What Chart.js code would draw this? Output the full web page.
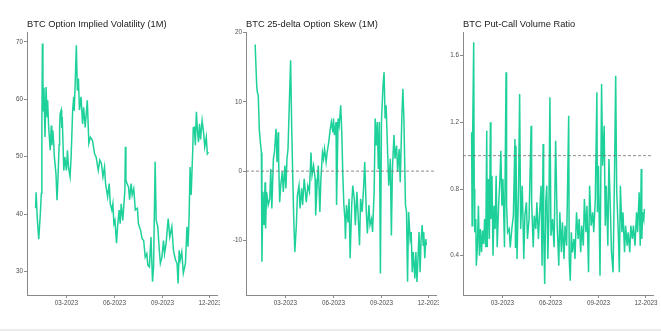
<!DOCTYPE html>
<html>
<head>
<meta charset="utf-8">
<script src="https://cdn.jsdelivr.net/npm/chart.js@4.4.0/dist/chart.umd.min.js"></script>
<style>
    html, body { margin: 0; padding: 0; background: #fff; }
    #wrap { position: relative; width: 661px; height: 331px; overflow: hidden; }
    .panel { position: absolute; top: 0; height: 331px; }
    .panel canvas { display: block; }
    #footer-line { position: absolute; left: 0; top: 329px; width: 661px; height: 2px; background: #ececec; }
</style>
</head>
<body>
<div id="wrap">
    <div class="panel" style="left:0;width:220px"><canvas id="ivChart" width="220" height="331"></canvas></div>
    <div class="panel" style="left:220px;width:219px"><canvas id="skewChart" width="219" height="331"></canvas></div>
    <div class="panel" style="left:439px;width:222px"><canvas id="pcrChart" width="222" height="331"></canvas></div>
    <div id="footer-line"></div>
</div>
<script>
// Days counted from 2023-01-01
const monthTickDays = [59, 151, 243, 334];
const monthTickLabels = ['03-2023', '06-2023', '09-2023', '12-2023'];

// BTC implied volatility (1M)
const ivDays = [0, 1, 3, 6, 9, 11, 12, 13, 14, 15, 16, 18, 20, 22, 23, 25, 28, 30, 31, 33, 35, 36, 39, 41, 43, 45, 46, 47, 49, 50, 51, 54, 56, 59, 61, 63, 66, 68, 71, 73, 74, 76, 78, 80, 82, 84, 87, 90, 92, 95, 99, 102, 105, 109, 113, 116, 120, 123, 126, 129, 132, 134, 138, 141, 143, 146, 148, 150, 152, 155, 157, 160, 162, 164, 167, 171, 172, 173, 175, 178, 180, 183, 185, 188, 191, 195, 197, 201, 204, 207, 210, 213, 215, 218, 221, 224, 226, 229, 231, 234, 237, 239, 242, 245, 247, 250, 254, 257, 261, 264, 268, 271, 273, 275, 277, 280, 283, 287, 290, 292, 294, 296, 298, 301, 302, 304, 306, 308, 310, 312, 314, 316, 319, 322, 324, 327, 329, 331];
const ivValues = [41.0, 43.8, 39.5, 35.6, 40.0, 43.6, 55.0, 69.7, 63.0, 58.0, 62.0, 53.4, 62.1, 57.0, 59.8, 55.1, 51.1, 55.4, 52.0, 54.6, 51.7, 49.9, 47.0, 42.4, 46.5, 52.0, 55.1, 57.5, 58.1, 55.0, 56.9, 47.6, 49.9, 47.6, 51.1, 48.2, 46.5, 49.9, 58.1, 60.4, 58.0, 63.3, 69.4, 61.5, 63.6, 58.1, 60.4, 55.7, 58.6, 55.1, 59.8, 52.3, 53.4, 52.8, 50.5, 49.9, 47.6, 49.4, 48.8, 46.5, 48.2, 45.3, 43.0, 45.3, 41.8, 40.7, 41.8, 38.3, 38.9, 34.9, 37.8, 40.7, 38.3, 41.8, 38.9, 44.1, 51.7, 46.0, 45.3, 44.7, 42.5, 45.3, 43.3, 44.4, 40.7, 41.0, 38.3, 37.2, 35.7, 35.4, 32.5, 33.1, 31.1, 30.8, 36.0, 28.2, 30.8, 49.1, 38.9, 37.8, 33.7, 31.4, 32.5, 35.4, 33.1, 34.9, 39.2, 36.0, 37.8, 33.7, 32.0, 31.4, 27.9, 33.7, 32.0, 33.4, 29.7, 31.4, 37.8, 34.3, 39.5, 48.2, 43.3, 51.1, 55.0, 55.1, 52.0, 57.8, 54.6, 52.5, 55.7, 53.0, 56.3, 54.0, 51.7, 53.4, 50.5, 50.8];
const ivTicks = [30, 40, 50, 60, 70];

// BTC 25-delta skew (1M)
const skewDays = [1, 4, 5, 7, 9, 11, 13, 14, 16, 18, 20, 21, 23, 26, 29, 31, 33, 36, 38, 41, 43, 45, 46, 48, 50, 53, 55, 58, 60, 62, 64, 66, 69, 71, 73, 75, 77, 80, 82, 85, 87, 90, 92, 95, 99, 102, 105, 108, 110, 113, 116, 117, 120, 122, 125, 127, 130, 132, 134, 137, 139, 142, 145, 147, 150, 151, 153, 156, 157, 160, 162, 165, 167, 169, 171, 173, 174, 176, 179, 181, 183, 186, 188, 191, 193, 196, 198, 201, 203, 206, 209, 211, 214, 216, 219, 221, 224, 226, 229, 231, 233, 235, 237, 239, 241, 243, 246, 248, 250, 252, 255, 257, 260, 262, 264, 267, 269, 272, 274, 277, 279, 282, 284, 286, 289, 291, 293, 295, 298, 300, 302, 304, 307, 309, 311, 313, 315, 317, 319, 321, 323, 324, 326, 328, 329];
const skewValues = [18.3, 12.4, 11.5, 10.9, 6.0, 4.2, 2.7, -13.1, -3.0, -7.8, -1.6, -8.3, -3.0, -4.9, -4.0, 0.3, -5.4, 1.8, 2.7, 6.1, 1.3, 5.6, 1.8, -4.5, -2.1, -0.1, -3.0, 0.8, -2.5, 1.8, 3.2, 8.5, 16.0, 6.6, -0.6, -6.9, -11.7, -7.8, -3.5, -2.1, -5.4, -2.5, -4.9, -1.1, -4.5, -2.1, -3.0, 2.7, -0.6, 0.8, -1.1, -6.4, -1.6, 0.8, -5.9, -1.1, 2.7, 1.8, 3.2, 1.3, 2.7, 4.2, 6.1, 7.1, 5.6, 7.6, 5.2, 7.1, -4.9, 7.6, 6.6, 9.5, 5.6, -0.6, -4.9, -6.9, -9.8, -4.9, -7.4, -4.0, -12.6, -4.9, -2.1, -4.0, -7.8, -3.0, -5.9, -10.7, -4.0, -5.9, -2.1, 1.3, -5.9, -9.0, -4.9, -7.8, -6.9, -8.8, -3.0, 7.6, 3.7, 7.1, 0.3, 7.1, -14.8, 7.1, 12.4, 14.3, 7.6, 9.5, 2.3, -2.1, 1.8, -9.3, 0.3, 5.2, 1.8, 3.7, -0.1, 3.2, -1.6, 7.6, 11.9, 7.6, -4.9, -5.9, -16.0, -5.9, -9.8, -8.8, -14.6, -11.7, -15.5, -11.7, -16.0, -12.6, -8.8, -14.6, -9.8, -7.8, -10.7, -8.8, -12.6, -9.8, -10.7];
const skewTicks = [-10, 0, 10, 20];
const skewRef = 0;

// BTC put-call volume ratio
const pcrDays = [0, 1, 2, 4, 5, 6, 8, 9, 11, 13, 15, 17, 19, 21, 23, 25, 27, 29, 30, 32, 34, 36, 37, 39, 41, 43, 45, 47, 49, 52, 54, 56, 58, 60, 63, 66, 67, 69, 72, 74, 77, 80, 83, 84, 85, 87, 90, 92, 94, 97, 100, 102, 105, 107, 110, 114, 115, 118, 120, 123, 125, 128, 130, 133, 135, 137, 138, 140, 142, 144, 146, 148, 150, 152, 155, 158, 161, 164, 167, 169, 172, 174, 177, 179, 182, 186, 187, 189, 191, 193, 196, 198, 201, 204, 206, 209, 211, 214, 216, 219, 221, 224, 226, 229, 232, 234, 237, 240, 241, 243, 246, 249, 251, 254, 256, 258, 261, 263, 266, 268, 271, 274, 276, 278, 281, 283, 285, 288, 290, 293, 295, 298, 300, 303, 305, 308, 310, 313, 316, 318, 321, 323, 325, 326, 328, 330, 331];
const pcrValues = [1.14, 0.58, 1.12, 1.68, 0.80, 0.54, 0.62, 0.34, 0.45, 0.70, 0.40, 0.56, 0.42, 0.55, 0.47, 0.62, 0.45, 1.15, 0.45, 0.86, 0.50, 1.20, 0.62, 0.88, 0.40, 0.70, 0.56, 0.88, 0.45, 0.72, 0.84, 1.03, 0.70, 0.86, 0.45, 1.50, 0.70, 0.54, 0.56, 0.45, 0.56, 0.64, 1.10, 0.45, 1.06, 0.38, 0.82, 1.37, 0.56, 0.82, 0.38, 0.64, 0.72, 0.50, 0.62, 1.18, 0.72, 0.45, 0.64, 0.56, 0.72, 0.50, 0.64, 0.82, 0.34, 1.07, 0.56, 0.23, 0.72, 0.82, 0.38, 0.64, 1.35, 0.52, 0.62, 0.45, 1.09, 0.58, 0.34, 0.66, 0.42, 0.60, 0.38, 0.58, 0.46, 1.24, 0.38, 0.25, 0.54, 0.42, 0.50, 0.38, 0.66, 0.50, 0.62, 0.42, 0.58, 0.46, 0.74, 0.54, 0.70, 0.30, 0.82, 0.58, 0.66, 0.54, 0.74, 1.38, 0.66, 0.94, 0.28, 1.43, 0.94, 1.18, 0.58, 0.82, 0.46, 0.98, 0.66, 0.42, 0.30, 0.94, 1.48, 0.78, 0.54, 0.30, 0.82, 0.54, 0.66, 0.42, 0.58, 0.46, 0.54, 0.42, 0.58, 0.50, 0.58, 0.46, 0.66, 0.54, 0.78, 0.46, 0.92, 0.50, 0.66, 0.62, 0.68];
const pcrTicks = [0.4, 0.8, 1.2, 1.6];
const pcrRef = 1;

const LINE_COLOR = '#1ed19a';
const AXIS_COLOR = '#8a8a8a';
const TEXT_COLOR = '#4d4d4d';
const FONT = "'Liberation Sans', Arial, sans-serif";
const X_MIN = -16.5;
const X_MAX = 347.5;

// Title drawn flush with the left edge of the plot area
const panelTitle = {
    id: 'panelTitle',
    afterDraw(chart, args, opts) {
        const ctx = chart.ctx;
        ctx.save();
        ctx.font = `9.3px ${FONT}`;
        ctx.fillStyle = '#1a1a1a';
        ctx.textBaseline = 'alphabetic';
        ctx.textAlign = 'left';
        ctx.fillText(opts.text, chart.chartArea.left, 26.5);
        ctx.restore();
    }
};

function toPoints(days, values) {
    return days.map((d, i) => ({ x: d, y: values[i] }));
}

function buildPanel(canvasId, cfg) {
    const datasets = [{
        data: toPoints(cfg.days, cfg.values),
        borderColor: LINE_COLOR,
        borderWidth: 1.5,
        pointRadius: 0,
        tension: 0,
        order: 1
    }];

    // Dashed reference level across the full width
    if (cfg.ref !== undefined) {
        datasets.push({
            data: [{ x: X_MIN, y: cfg.ref }, { x: X_MAX, y: cfg.ref }],
            borderColor: '#6f6f6f',
            borderWidth: 0.8,
            borderDash: [3, 2],
            pointRadius: 0,
            order: 0
        });
    }

    return new Chart(document.getElementById(canvasId), {
        type: 'line',
        data: { datasets },
        options: {
            responsive: false,
            animation: false,
            events: [],
            layout: { padding: { top: 32, right: cfg.padRight, bottom: 0, left: 0 } },
            plugins: {
                legend: { display: false },
                tooltip: { enabled: false },
                panelTitle: { text: cfg.title }
            },
            scales: {
                x: {
                    type: 'linear',
                    min: X_MIN,
                    max: X_MAX,
                    grid: { drawOnChartArea: false, drawTicks: true, tickLength: 3, color: AXIS_COLOR },
                    border: { display: true, color: AXIS_COLOR, width: 1 },
                    ticks: {
                        autoSkip: false,
                        maxRotation: 0,
                        padding: 1,
                        color: TEXT_COLOR,
                        font: { family: FONT, size: 6.3 },
                        callback: (v) => monthTickLabels[monthTickDays.indexOf(v)]
                    },
                    afterBuildTicks: (scale) => {
                        scale.ticks = monthTickDays.map(v => ({ value: v }));
                    },
                    afterFit: (scale) => {
                        scale.height = 36;
                        scale.paddingLeft = 0;
                        scale.paddingRight = 0;
                    }
                },
                y: {
                    min: cfg.yMin,
                    max: cfg.yMax,
                    grid: { drawOnChartArea: false, drawTicks: true, tickLength: 3, color: AXIS_COLOR },
                    border: { display: true, color: AXIS_COLOR, width: 1 },
                    ticks: {
                        padding: 1,
                        color: TEXT_COLOR,
                        font: { family: FONT, size: 6.3 },
                        callback: (v) => cfg.tickFormat(v)
                    },
                    afterBuildTicks: (scale) => {
                        scale.ticks = cfg.ticks.map(v => ({ value: v }));
                    },
                    afterFit: (scale) => {
                        scale.width = cfg.axisWidth;
                        scale.paddingTop = 0;
                        scale.paddingBottom = 0;
                    }
                }
            }
        },
        plugins: [panelTitle]
    });
}

buildPanel('ivChart', {
    title: 'BTC Option Implied Volatility (1M)',
    days: ivDays,
    values: ivValues,
    ticks: ivTicks,
    tickFormat: (v) => String(v),
    yMin: 25.9,
    yMax: 71.7,
    axisWidth: 27,
    padRight: 3
});

buildPanel('skewChart', {
    title: 'BTC 25-delta Option Skew (1M)',
    days: skewDays,
    values: skewValues,
    ticks: skewTicks,
    tickFormat: (v) => String(v),
    ref: skewRef,
    yMin: -17.9,
    yMax: 20.1,
    axisWidth: 26,
    padRight: 3
});

buildPanel('pcrChart', {
    title: 'BTC Put-Call Volume Ratio',
    days: pcrDays,
    values: pcrValues,
    ticks: pcrTicks,
    tickFormat: (v) => v.toFixed(1),
    ref: pcrRef,
    yMin: 0.164,
    yMax: 1.742,
    axisWidth: 24,
    padRight: 8
});
</script>
</body>
</html>
